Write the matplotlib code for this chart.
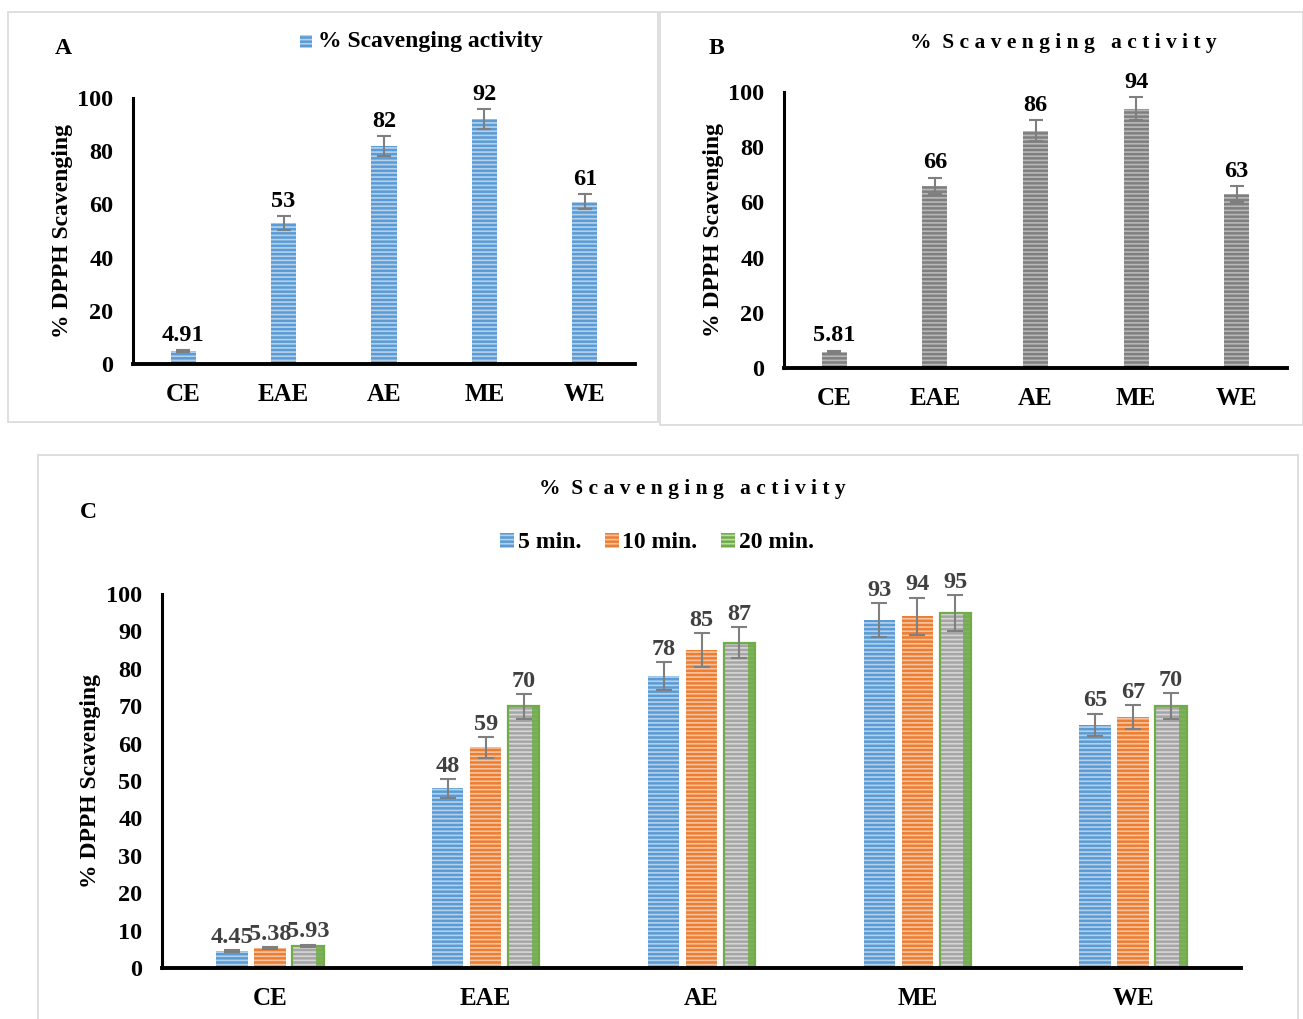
import matplotlib
matplotlib.use("Agg")
import matplotlib.pyplot as plt
import numpy as np
from matplotlib.patches import Rectangle, Patch

plt.rcParams['font.family'] = ['Liberation Serif', 'DejaVu Serif']
plt.rcParams['font.weight'] = 'bold'
plt.rcParams['hatch.linewidth'] = 1.2

categories = ["CE", "EAE", "AE", "ME", "WE"]

a_values = [4.91, 53, 82, 92, 61]
a_errors = [0.5, 2.8, 3.8, 3.8, 2.8]
a_labels = ["4.91", "53", "82", "92", "61"]

b_values = [5.81, 66, 86, 94, 63]
b_errors = [0.5, 3.0, 3.8, 4.2, 2.8]
b_labels = ["5.81", "66", "86", "94", "63"]

c_series = ["5 min.", "10 min.", "20 min."]
c_5 = [4.45, 48, 78, 93, 65]
c_10 = [5.38, 59, 85, 94, 67]
c_20 = [5.93, 70, 87, 95, 70]
c_5_err = [0.3, 2.5, 3.8, 4.5, 3.0]
c_10_err = [0.3, 2.8, 4.5, 5.0, 3.2]
c_20_err = [0.3, 3.3, 4.2, 4.8, 3.4]
c_5_lab = ["4.45", "48", "78", "93", "65"]
c_10_lab = ["5.38", "59", "85", "94", "67"]
c_20_lab = ["5.93", "70", "87", "95", "70"]

BLUE = "#5B9BD5"
ORANGE = "#ED7D31"
GRAY = "#A5A5A5"
DGRAY = "#7F7F7F"
GREEN = "#70AD47"
HATCH_EC = (1, 1, 1, 0.55)

FS_TICK = 17.5
FS_CAT = 18
FS_VAL = 17.5
FS_LAB = 17
FS_TITLE = 15.5

W, H = 1303, 1019
fig = plt.figure(figsize=(W / 100, H / 100), dpi=100)


def fx(x):
    return x / W


def fy(y):
    return 1 - y / H


def panel_box(x0, y0, x1, y1):
    fig.patches.append(Rectangle((fx(x0), fy(y1)), fx(x1) - fx(x0), fy(y0) - fy(y1),
                                 transform=fig.transFigure, fill=False,
                                 edgecolor="#D9D9D9", linewidth=1.2))


def style_axes(ax, ymax, step):
    ax.set_xlim(-0.5, 4.5)
    ax.set_ylim(0, ymax)
    ax.set_yticks(np.arange(0, ymax + 1, step))
    for s in ["top", "right"]:
        ax.spines[s].set_visible(False)
    ax.spines["left"].set_linewidth(2.2)
    ax.spines["bottom"].set_linewidth(2.8)
    ax.tick_params(axis="both", length=0)
    ax.tick_params(axis="y", pad=14, labelsize=FS_TICK)
    ax.tick_params(axis="x", pad=14, labelsize=FS_CAT)
    ax.set_xticks(range(len(categories)))
    ax.set_xticklabels(categories, fontweight="bold")
    for t in ax.get_yticklabels():
        t.set_fontweight("bold")
    ax.patch.set_alpha(0)


# ---------- Panel A ----------
panel_box(8, 12, 658, 422)
axA = fig.add_axes([fx(133), fy(364), fx(635) - fx(133), fy(98) - fy(364)])
x = np.arange(len(categories))
axA.bar(x, a_values, width=0.25, color=BLUE, edgecolor=HATCH_EC, linewidth=0, hatch="----")
axA.errorbar(x, a_values, yerr=a_errors, fmt="none", ecolor=DGRAY, elinewidth=1.5, capsize=5, capthick=1.5)
for xi, v, e, lab in zip(x, a_values, a_errors, a_labels):
    axA.text(xi, v + e + 1.5, lab, ha="center", va="bottom", fontsize=FS_VAL, fontweight="bold", color="black")
style_axes(axA, 100, 20)
axA.set_ylabel("% DPPH Scavenging", fontsize=FS_LAB, fontweight="bold", labelpad=3)
fig.text(fx(63), fy(48), "A", fontsize=17, fontweight="bold", ha="center", va="center")
fig.patches.append(Rectangle((fx(300), fy(48)), fx(12), fy(35) - fy(48), transform=fig.transFigure,
                             facecolor=BLUE, edgecolor=HATCH_EC, linewidth=0, hatch="----"))
fig.text(fx(318), fy(41), "% Scavenging activity", fontsize=17, fontweight="bold", ha="left", va="center")

# ---------- Panel B ----------
panel_box(660, 12, 1303, 425)
axB = fig.add_axes([fx(784), fy(368), fx(1287) - fx(784), fy(92) - fy(368)])
axB.bar(x, b_values, width=0.25, color=DGRAY, edgecolor=(1, 1, 1, 0.45), linewidth=0, hatch="----")
axB.errorbar(x, b_values, yerr=b_errors, fmt="none", ecolor=DGRAY, elinewidth=1.5, capsize=5, capthick=1.5)
for xi, v, e, lab in zip(x, b_values, b_errors, b_labels):
    axB.text(xi, v + e + 1.5, lab, ha="center", va="bottom", fontsize=FS_VAL, fontweight="bold", color="black")
style_axes(axB, 100, 20)
axB.set_ylabel("% DPPH Scavenging", fontsize=FS_LAB, fontweight="bold", labelpad=3)
fig.text(fx(716), fy(48), "B", fontsize=17, fontweight="bold", ha="center", va="center")
fig.text(fx(1063), fy(43), "%  S c a v e n g i n g   a c t i v i t y", fontsize=FS_TITLE,
         fontweight="bold", ha="center", va="center")

# ---------- Panel C ----------
panel_box(38, 455, 1298, 1030)
axC = fig.add_axes([fx(162), fy(968), fx(1241) - fx(162), fy(594) - fy(968)])
bw = 0.145
off = 0.176
series_vals = [c_5, c_10, c_20]
series_err = [c_5_err, c_10_err, c_20_err]
series_lab = [c_5_lab, c_10_lab, c_20_lab]
series_col = [BLUE, ORANGE, GRAY]
for i, (vals, errs, labs, col) in enumerate(zip(series_vals, series_err, series_lab, series_col)):
    xs = x + (i - 1) * off
    axC.bar(xs, vals, width=bw, color=col, edgecolor=HATCH_EC, linewidth=0, hatch="----")
    if i == 2:
        axC.bar(xs + bw * 0.38, vals, width=bw * 0.24, color=GREEN, linewidth=0, alpha=0.85)
        axC.bar(xs, vals, width=bw, fill=False, edgecolor=GREEN, linewidth=1.6)
    axC.errorbar(xs, vals, yerr=errs, fmt="none", ecolor=DGRAY, elinewidth=1.5, capsize=6, capthick=1.5)
    for xi, v, e, lab in zip(xs, vals, errs, labs):
        axC.text(xi, v + e + 0.6, lab, ha="center", va="bottom", fontsize=FS_VAL,
                 fontweight="bold", color="#404040")
style_axes(axC, 100, 10)
axC.set_ylabel("% DPPH Scavenging", fontsize=FS_LAB, fontweight="bold", labelpad=4)
fig.text(fx(88), fy(512), "C", fontsize=17, fontweight="bold", ha="center", va="center")
fig.text(fx(692), fy(489), "%  S c a v e n g i n g   a c t i v i t y", fontsize=FS_TITLE,
         fontweight="bold", ha="center", va="center")
handles = [Patch(facecolor=BLUE, edgecolor=HATCH_EC, linewidth=0, hatch="----"),
           Patch(facecolor=ORANGE, edgecolor=HATCH_EC, linewidth=0, hatch="----"),
           Patch(facecolor=GREEN, edgecolor=HATCH_EC, linewidth=0, hatch="----")]
fig.legend(handles, c_series, loc="center", bbox_to_anchor=(fx(657), fy(543)), ncol=3, frameon=False,
           prop={"size": 17, "weight": "bold"}, handlelength=0.6, handleheight=0.6,
           handletextpad=0.15, columnspacing=1.0)

fig.savefig("out.png", dpi=100)
